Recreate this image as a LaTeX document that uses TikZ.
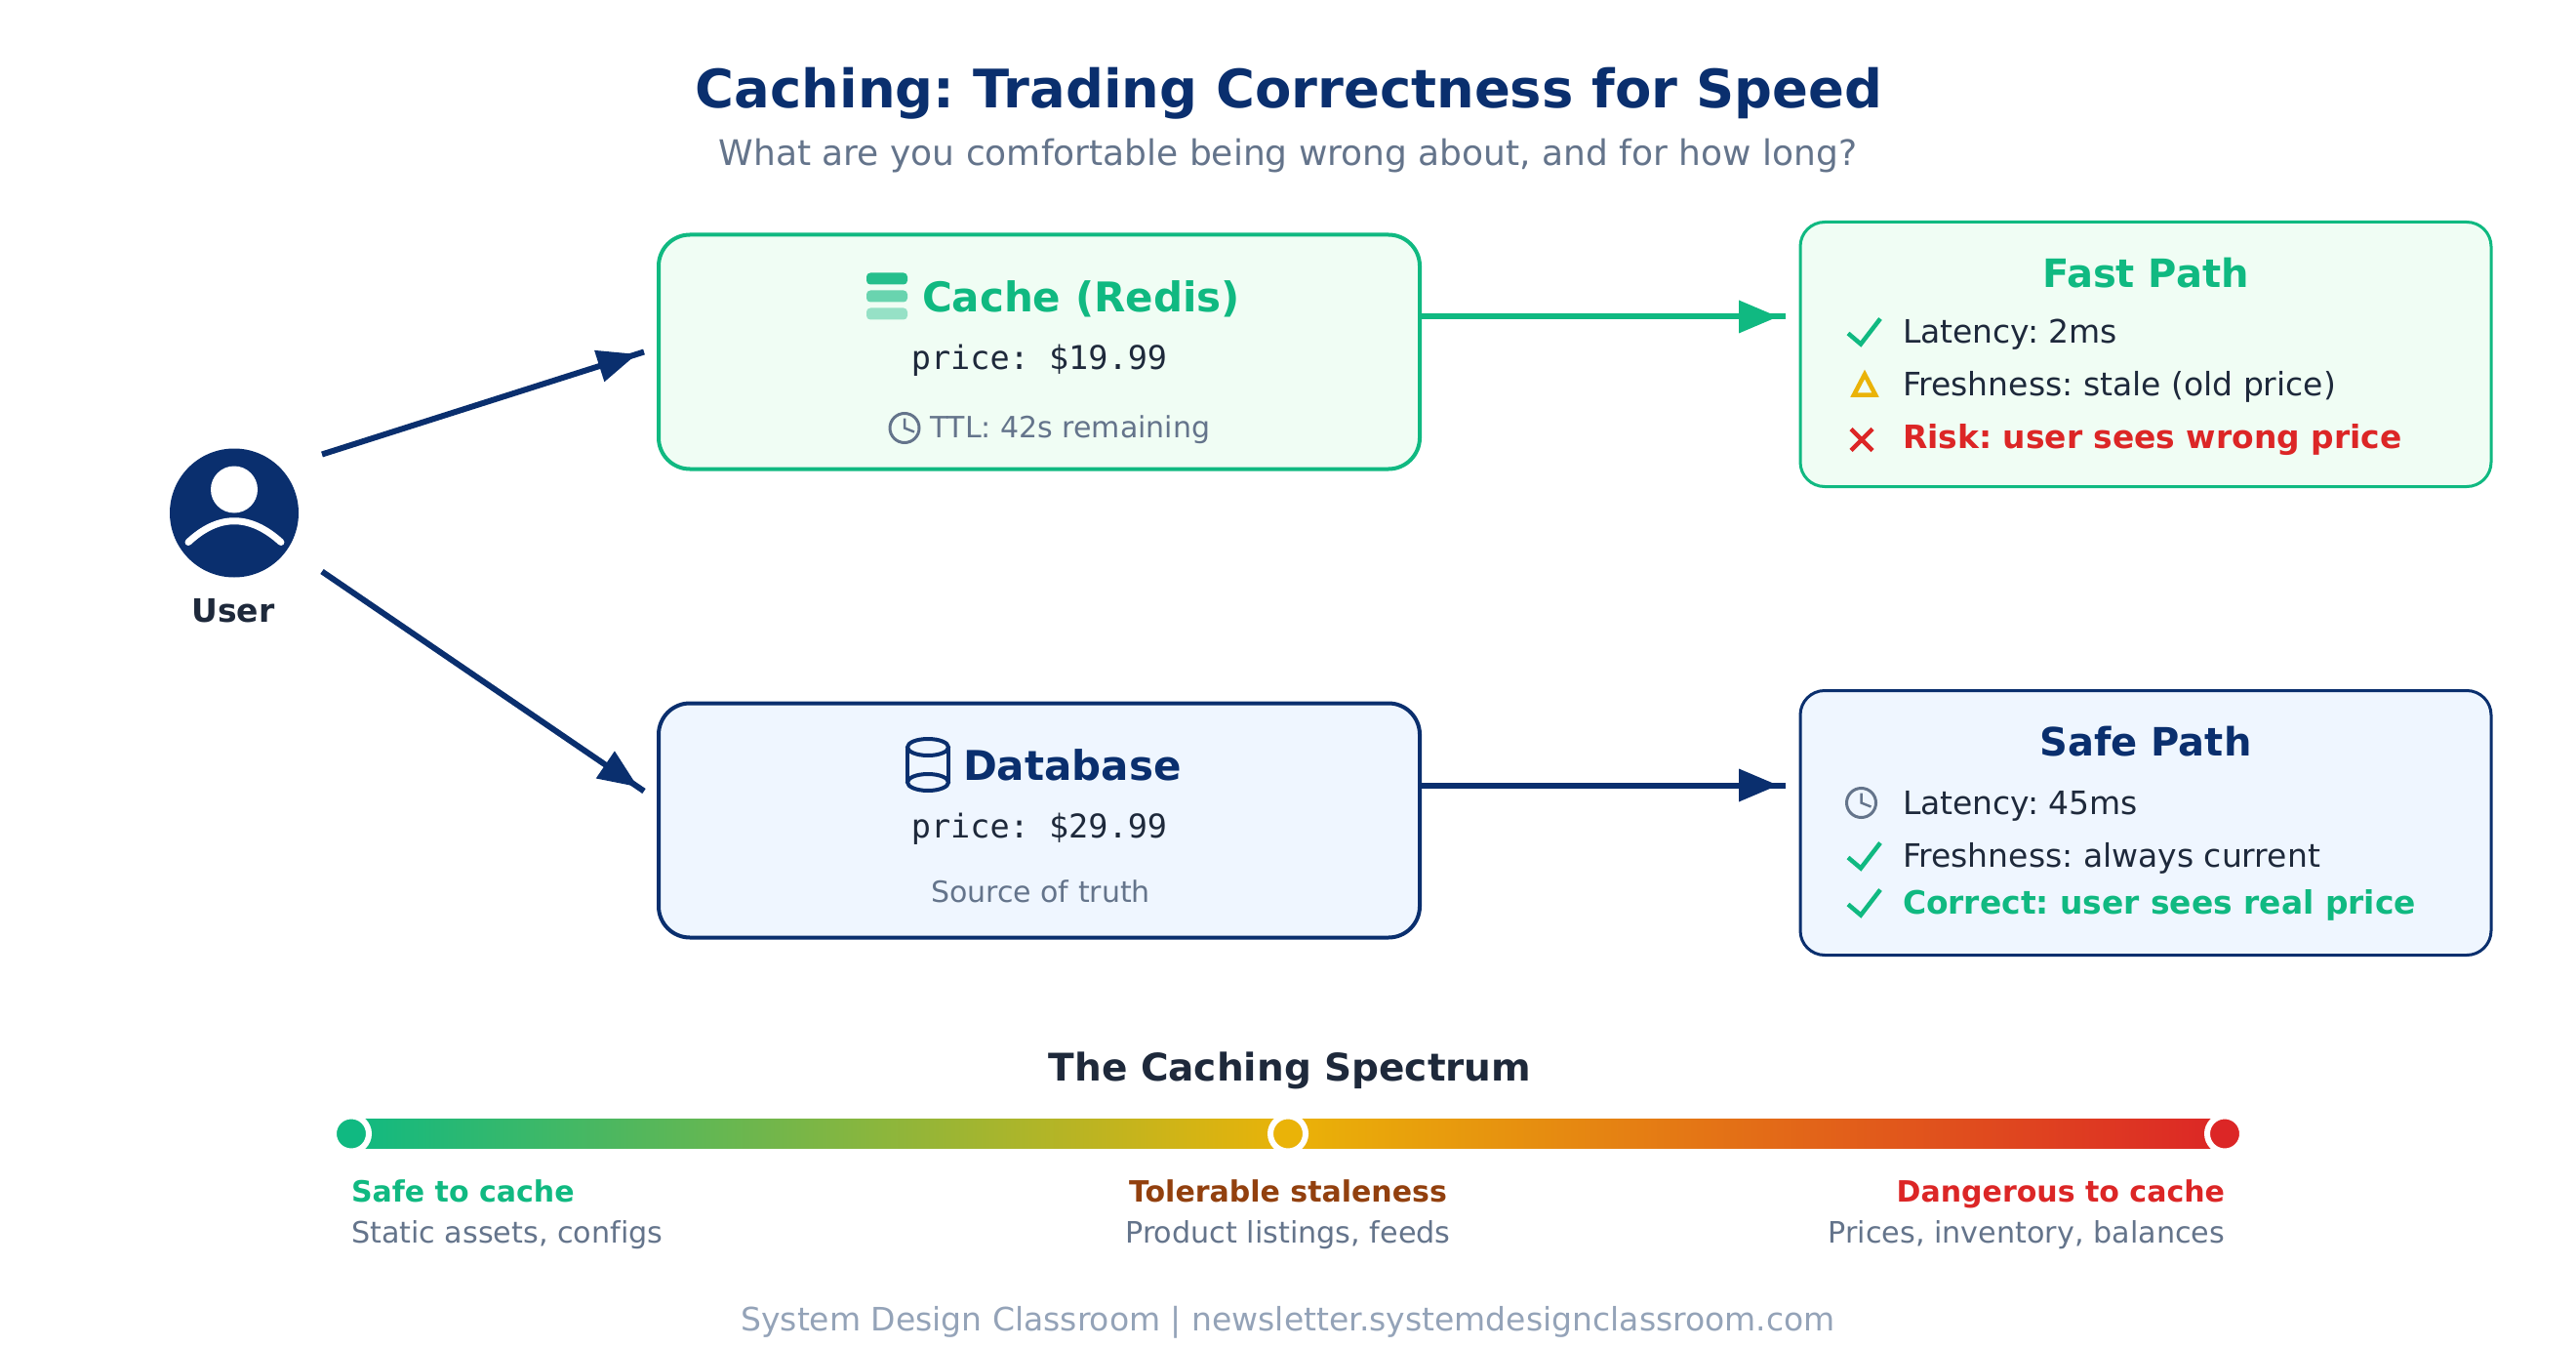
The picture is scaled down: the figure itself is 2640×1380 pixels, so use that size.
\documentclass[tikz,border=0pt]{standalone}
\usepackage{fontspec}
\setmainfont{DejaVu Sans}[Ligatures=NoCommon]
\setmonofont{DejaVu Sans Mono}
\usetikzlibrary{decorations.markings}
\definecolor{navy}{HTML}{0A2F6E}
\definecolor{grn}{HTML}{10B981}
\definecolor{amb}{HTML}{EAB308}
\definecolor{redd}{HTML}{DC2626}
\definecolor{ink}{HTML}{1E293B}
\definecolor{slate}{HTML}{64748B}
\definecolor{mute}{HTML}{94A3B8}
\definecolor{brn}{HTML}{92400E}
\definecolor{gfill}{HTML}{F0FDF4}
\definecolor{bfill}{HTML}{EFF6FF}
\pgfdeclarehorizontalshading{spec}{100bp}{color(0bp)=(grn); color(25bp)=(grn); color(50bp)=(amb); color(75bp)=(redd); color(100bp)=(redd)}
\newcommand{\fs}[1]{\frenchspacing\fontsize{#1}{#1}\selectfont}
\tikzset{
  x=0.5pt,y=-0.5pt,
  txt/.style={inner sep=0pt,outer sep=0pt,anchor=base,yshift=-0.6pt},
  ltxt/.style={txt,anchor=base west},
  rtxt/.style={txt,anchor=base east},
  title/.style={txt,text=navy,font=\fs{27.2}\bfseries},
  subtitle/.style={txt,text=slate,font=\fs{18}},
  boxhead/.style={ltxt,font=\fs{21}\bfseries},
  price/.style={txt,text=ink,font=\fs{16.75}\ttfamily},
  small/.style={txt,text=slate,font=\fs{15}},
  pathhead/.style={txt,font=\fs{20}\bfseries},
  item/.style={ltxt,text=ink,font=\fs{16.5}},
  itemb/.style={ltxt,font=\fs{16.45}\bfseries},
  lab/.style={font=\fs{15}\bfseries},
  sub/.style={text=slate,font=\fs{15.1}},
  mainbox/.style={draw,line width=2pt,rounded corners=16pt,minimum width=390pt,minimum height=120pt,inner sep=0pt,outer sep=0pt},
  pathbox/.style={draw,line width=1.5pt,rounded corners=12.5pt,minimum width=354pt,minimum height=135.5pt,inner sep=0pt,outer sep=0pt},
  conn/.style={line width=3pt,draw=connc,postaction={decorate},decoration={markings,mark=at position -4pt with {\fill[connc] (-20pt,-8.5pt)--(0pt,0pt)--(-20pt,8.5pt)--cycle;}}},
  chk/.pic={\draw[grn,line width=2.25pt] (-13,-11)--(0,0)--(20,-26);},
  clk/.pic={\draw[slate,line width=1.5pt] (0,0) circle[radius=7.5pt];
            \draw[slate,line width=1.25pt] (0,-10)--(0,0)--(10,4);},
}
\colorlet{connc}{navy}
\begin{document}
\begin{tikzpicture}
\useasboundingbox (0,-0.5) rectangle (2640,1379.5);
\fill[white] (0,-0.5) rectangle (2640,1379.5);

\node[title] (ttl) at (1321,109) {Caching: Trading Correctness for Speed};
\node[subtitle] (stl) at (1320,168) {What are you comfortable being wrong about, and for how long?};

% user
\node[circle,fill=navy,minimum size=66pt,inner sep=0pt,outer sep=0pt] (usr) at (240,525) {};
\fill[white] (240,501) circle[radius=12pt];
\draw[white,line width=3.5pt,line cap=round] (193,555) .. controls (224,526) and (256,526) .. (288,555);
\node[txt,text=ink,font=\fs{16.5}\bfseries] (usrl) at (239,636) {User};

% boxes
\node[mainbox,draw=grn,fill=gfill] (cache) at (1065,360) {};
\node[mainbox,draw=navy,fill=bfill] (db) at (1065,840) {};
\node[pathbox,draw=grn,fill=gfill] (fast) at (2199,362.5) {};
\node[pathbox,draw=navy,fill=bfill] (safe) at (2199,842.5) {};

% cache content
\fill[grn,opacity=.9,rounded corners=2pt] (888,279) rectangle (930,291);
\fill[grn,opacity=.6,rounded corners=2pt] (888,297) rectangle (930,309);
\fill[grn,opacity=.4,rounded corners=2pt] (888,315) rectangle (930,327);
\node[boxhead,text=grn] (cachet) at (945,318) {Cache (Redis)};
\node[price] (cachep) at (1065,377) {price: \$19.99};
\pic at (927,438) {clk};
\node[ltxt,text=slate,font=\fs{15}] (ttlt) at (953,447) {TTL: 42s remaining};

% db content
\draw[navy,line width=2pt] (930,765)--(930,801);
\draw[navy,line width=2pt] (972,765)--(972,801);
\draw[navy,line width=2pt] (951,765) ellipse[x radius=21,y radius=8.5];
\draw[navy,line width=2pt] (951,801) ellipse[x radius=21,y radius=8.5];
\node[boxhead,text=navy] (dbt) at (987,798) {Database};
\node[price] (dbp) at (1065,857) {price: \$29.99};
\node[small] (dbs) at (1066.5,923) {Source of truth};

% fast
\node[pathhead,text=grn] (fastt) at (2199,293) {Fast Path};
\pic at (1907,352) {chk};
\node[item] (f1) at (1950,350) {Latency: 2ms};
\draw[amb,line width=2.25pt,line join=miter] (1911,383)--(1922,404)--(1900,404)--cycle;
\node[item] (f2) at (1950,404) {Freshness: stale (old price)};
\draw[redd,line width=2.25pt] (1897,439)--(1919,461) (1919,439)--(1897,461);
\node[itemb,text=redd] (f3) at (1950,458) {Risk: user sees wrong price};

% safe
\node[pathhead,text=navy] (safet) at (2199,773) {Safe Path};
\pic at (1907.5,822) {clk};
\node[item] (s1) at (1950,833) {Latency: 45ms};
\pic at (1907,889) {chk};
\node[item] (s2) at (1950,887) {Freshness: always current};
\pic at (1907,937) {chk};
\node[itemb,text=grn] (s3) at (1950,935) {Correct: user sees real price};

% connectors
\coordinate (ua) at (330,465);
\coordinate (ub) at (330,585);
\coordinate (ca) at (660,360);
\coordinate (da) at (660,810);
\coordinate (fa) at (1830,324);
\coordinate (sa) at (1830,804);
\draw[conn] (ua)--(ca);
\draw[conn] (ub)--(da);
\colorlet{connc}{grn}
\draw[conn] (cache.east |- fa)--(fa);
\colorlet{connc}{navy}
\draw[conn] (db.east |- sa)--(sa);

% spectrum
\node[txt,text=ink,font=\fs{19.5}\bfseries] (spt) at (1322,1106) {The Caching Spectrum};
\shade[shading=spec] (360,1146) rectangle (2280,1176);
\node[circle,fill=grn,draw=white,line width=3pt,minimum size=18pt,inner sep=0pt] (d1) at (360,1161) {};
\node[circle,fill=amb,draw=white,line width=3pt,minimum size=18pt,inner sep=0pt] (d2) at (1320,1161) {};
\node[circle,fill=redd,draw=white,line width=3pt,minimum size=18pt,inner sep=0pt] (d3) at (2280,1161) {};
\node[ltxt,lab,text=grn] (l1) at (360,1230) {Safe to cache};
\node[ltxt,sub] (l1b) at (360,1272) {Static assets, configs};
\node[txt,lab,text=brn] (l2) at (1320,1230) {Tolerable staleness};
\node[txt,sub] (l2b) at (1320,1272) {Product listings, feeds};
\node[rtxt,lab,text=redd] (l3) at (2280,1230) {Dangerous to cache};
\node[rtxt,sub] (l3b) at (2280,1272) {Prices, inventory, balances};
\node[txt,text=mute,font=\fs{16.5}] (foot) at (1320,1362) {System Design Classroom | newsletter.systemdesignclassroom.com};
\end{tikzpicture}
\end{document}
